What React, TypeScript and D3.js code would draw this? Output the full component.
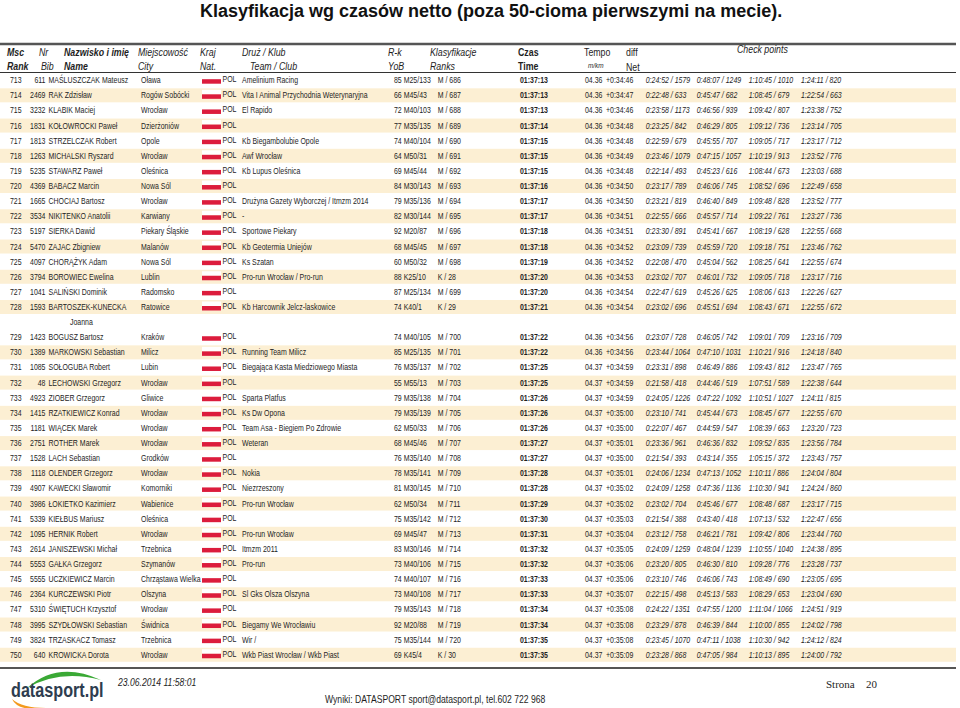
import React from "react";
import * as d3 from "d3";

const ranks = [713,714,715,716,717,718,719,720,721,722,723,724,725,726,727,728,729,730,731,732,733,734,735,736,737,738,739,740,741,742,743,744,745,746,747,748,749,750];
const bibs = [611,2469,3232,1831,1813,1263,5235,4369,1665,3534,5197,5470,4097,3794,1041,1593,1423,1389,1085,48,4923,1415,1181,2751,1528,1118,4907,3986,5339,1095,2614,5553,5555,2364,5310,3995,3824,640];
const names = ["MAŚLUSZCZAK Mateusz","RAK Zdzisław","KLABIK Maciej","KOŁOWROCKI Paweł","STRZELCZAK Robert","MICHALSKI Ryszard","STAWARZ Paweł","BABACZ Marcin","CHOCIAJ Bartosz","NIKITENKO Anatolii","SIERKA Dawid","ZAJAC Zbigniew","CHORĄŻYK Adam","BOROWIEC Ewelina","SALIŃSKI Dominik","BARTOSZEK-KUNECKA\nJoanna","BOGUSZ Bartosz","MARKOWSKI Sebastian","SOŁOGUBA Robert","LECHOWSKI Grzegorz","ZIOBER Grzegorz","RZATKIEWICZ Konrad","WIĄCEK Marek","ROTHER Marek","LACH Sebastian","OLENDER Grzegorz","KAWECKI Sławomir","ŁOKIETKO Kazimierz","KIEŁBUS Mariusz","HERNIK Robert","JANISZEWSKI Michał","GAŁKA Grzegorz","UCZKIEWICZ Marcin","KURCZEWSKI Piotr","ŚWIĘTUCH Krzysztof","SZYDŁOWSKI Sebastian","TRZASKACZ Tomasz","KROWICKA Dorota"];
const cities = ["Oława","Rogów Sobócki","Wrocław","Dzierżoniów","Opole","Wrocław","Oleśnica","Nowa Sól","Wrocław","Karwiany","Piekary Śląskie","Malanów","Nowa Sól","Lublin","Radomsko","Ratowice","Kraków","Milicz","Lubin","Wrocław","Gliwice","Wrocław","Wrocław","Wrocław","Grodków","Wrocław","Komorniki","Wabienice","Oleśnica","Wrocław","Trzebnica","Szymanów","Chrząstawa Wielka","Olszyna","Wrocław","Świdnica","Trzebnica","Wrocław"];
const nats = ranks.map(() => "POL");
const teams = ["Amelinium Racing","Vita I Animal Przychodnia Weterynaryjna","El Rapido","","Kb Biegambolubie Opole","Awf Wrocław","Kb Lupus Oleśnica","","Drużyna Gazety Wyborczej / Itmzm 2014","-","Sportowe Piekary","Kb Geotermia Uniejów","Ks Szatan","Pro-run Wrocław / Pro-run","","Kb Harcownik Jelcz-laskowice","","Running Team Milicz","Biegająca Kasta Miedziowego Miasta","","Sparta Platfus","Ks Dw Opona","Team Asa - Biegiem Po Zdrowie","Weteran","","Nokia","Niezrzeszony","Pro-run Wrocław","","Pro-run Wrocław","Itmzm 2011","Pro-run","","Sl Gks Olsza Olszyna","","Biegamy We Wrocławiu","Wir /","Wkb Piast Wrocław / Wkb Piast"];
const yobs = ["85","66","72","77","74","64","69","84","79","82","92","68","60","88","87","74","74","85","76","55","79","79","62","68","76","78","81","62","75","69","83","73","74","73","79","92","75","69"];
const cats = ["M25/133","M45/43","M40/103","M35/135","M40/104","M50/31","M45/44","M30/143","M35/136","M30/144","M20/87","M45/45","M50/32","K25/10","M25/134","K40/1","M40/105","M25/135","M35/137","M55/13","M35/138","M35/139","M50/33","M45/46","M35/140","M35/141","M30/145","M50/34","M35/142","M45/47","M30/146","M40/106","M40/107","M40/108","M35/143","M20/88","M35/144","K45/4"];
const sexRanks = ["M / 686","M / 687","M / 688","M / 689","M / 690","M / 691","M / 692","M / 693","M / 694","M / 695","M / 696","M / 697","M / 698","K / 28","M / 699","K / 29","M / 700","M / 701","M / 702","M / 703","M / 704","M / 705","M / 706","M / 707","M / 708","M / 709","M / 710","M / 711","M / 712","M / 713","M / 714","M / 715","M / 716","M / 717","M / 718","M / 719","M / 720","K / 30"];
const times = ["01:37:13","01:37:13","01:37:13","01:37:14","01:37:15","01:37:15","01:37:15","01:37:16","01:37:17","01:37:17","01:37:18","01:37:18","01:37:19","01:37:20","01:37:20","01:37:21","01:37:22","01:37:22","01:37:25","01:37:25","01:37:26","01:37:26","01:37:26","01:37:27","01:37:27","01:37:28","01:37:28","01:37:29","01:37:30","01:37:31","01:37:32","01:37:32","01:37:33","01:37:33","01:37:34","01:37:34","01:37:35","01:37:35"];
const tempos = ["04.36","04.36","04.36","04.36","04.36","04.36","04.36","04.36","04.36","04.36","04.36","04.36","04.36","04.36","04.36","04.36","04.36","04.36","04.37","04.37","04.37","04.37","04.37","04.37","04.37","04.37","04.37","04.37","04.37","04.37","04.37","04.37","04.37","04.37","04.37","04.37","04.37","04.37"];
const diffs = ["+0:34:46","+0:34:47","+0:34:46","+0:34:48","+0:34:48","+0:34:49","+0:34:48","+0:34:50","+0:34:50","+0:34:51","+0:34:51","+0:34:52","+0:34:52","+0:34:53","+0:34:54","+0:34:54","+0:34:56","+0:34:56","+0:34:59","+0:34:59","+0:34:59","+0:35:00","+0:35:00","+0:35:01","+0:35:00","+0:35:01","+0:35:02","+0:35:02","+0:35:03","+0:35:04","+0:35:05","+0:35:06","+0:35:06","+0:35:07","+0:35:08","+0:35:08","+0:35:08","+0:35:09"];
const cp1 = ["0:24:52 / 1579","0:22:48 / 633","0:23:58 / 1173","0:23:25 / 842","0:22:59 / 679","0:23:46 / 1079","0:22:14 / 493","0:23:17 / 789","0:23:21 / 819","0:22:55 / 666","0:23:30 / 891","0:23:09 / 739","0:22:08 / 470","0:23:02 / 707","0:22:47 / 619","0:23:02 / 696","0:23:07 / 728","0:23:44 / 1064","0:23:31 / 898","0:21:58 / 418","0:24:05 / 1226","0:23:10 / 741","0:22:07 / 467","0:23:36 / 961","0:21:54 / 393","0:24:06 / 1234","0:24:09 / 1258","0:23:02 / 704","0:21:54 / 388","0:23:12 / 758","0:24:09 / 1259","0:23:20 / 805","0:23:10 / 746","0:22:15 / 498","0:24:22 / 1351","0:23:29 / 878","0:23:45 / 1070","0:23:28 / 868"];
const cp2 = ["0:48:07 / 1249","0:45:47 / 682","0:46:56 / 939","0:46:29 / 805","0:45:55 / 707","0:47:15 / 1057","0:45:23 / 616","0:46:06 / 745","0:46:40 / 849","0:45:57 / 714","0:45:41 / 667","0:45:59 / 720","0:45:04 / 562","0:46:01 / 732","0:45:26 / 625","0:45:51 / 694","0:46:05 / 742","0:47:10 / 1031","0:46:49 / 886","0:44:46 / 519","0:47:22 / 1092","0:45:44 / 673","0:44:59 / 547","0:46:36 / 832","0:43:14 / 355","0:47:13 / 1052","0:47:36 / 1136","0:45:46 / 677","0:43:40 / 418","0:46:21 / 781","0:48:04 / 1239","0:46:30 / 810","0:46:06 / 743","0:45:13 / 583","0:47:55 / 1200","0:46:39 / 844","0:47:11 / 1038","0:47:05 / 984"];
const cp3 = ["1:10:45 / 1010","1:08:45 / 679","1:09:42 / 807","1:09:12 / 736","1:09:05 / 717","1:10:19 / 913","1:08:44 / 673","1:08:52 / 696","1:09:48 / 828","1:09:22 / 761","1:08:19 / 628","1:09:18 / 751","1:08:25 / 641","1:09:05 / 718","1:08:06 / 613","1:08:43 / 671","1:09:01 / 709","1:10:21 / 916","1:09:43 / 812","1:07:51 / 589","1:10:51 / 1027","1:08:45 / 677","1:08:39 / 663","1:09:52 / 835","1:05:15 / 372","1:10:11 / 886","1:10:30 / 941","1:08:48 / 687","1:07:13 / 532","1:09:42 / 806","1:10:55 / 1040","1:09:28 / 776","1:08:49 / 690","1:08:29 / 653","1:11:04 / 1066","1:10:00 / 855","1:10:30 / 942","1:10:13 / 895"];
const cp4 = ["1:24:11 / 820","1:22:54 / 663","1:23:38 / 752","1:23:14 / 705","1:23:17 / 712","1:23:52 / 776","1:23:03 / 688","1:22:49 / 658","1:23:52 / 777","1:23:27 / 736","1:22:55 / 668","1:23:46 / 762","1:22:55 / 674","1:23:17 / 716","1:22:26 / 627","1:22:55 / 672","1:23:16 / 709","1:24:18 / 840","1:23:47 / 765","1:22:38 / 644","1:24:11 / 815","1:22:55 / 670","1:23:20 / 723","1:23:56 / 784","1:23:43 / 757","1:24:04 / 804","1:24:24 / 860","1:23:17 / 715","1:22:47 / 656","1:23:44 / 760","1:24:38 / 895","1:23:28 / 737","1:23:05 / 695","1:23:04 / 690","1:24:51 / 919","1:24:02 / 798","1:24:12 / 824","1:24:00 / 792"];

const headerTop = ["Msc","Nr","Nazwisko i imię","Miejscowość","Kraj","Druż / Klub","R-k","Klasyfikacje","Czas","Tempo","diff"];
const headerBottom = ["Rank","Bib","Name","City","Nat.","Team / Club","YoB","Ranks","Time","m/km","Net"];
const title = "Klasyfikacja wg czasów netto (poza 50-cioma pierwszymi na mecie).";

const FONT = "'Liberation Sans', Arial, sans-serif";
const SX = 0.82;
const INK = "#1e1e1e";

type TP = {x:number;y:number;children:any;size?:number;sx?:number;weight?:any;italic?:boolean;anchor?:string;fill?:string;family?:string};
const T = ({x,y,children,size=8.5,sx=SX,weight,italic,anchor,fill=INK,family=FONT}:TP) => (
  <text transform={`translate(${x},${y}) scale(${sx},1)`} fontSize={size} fontWeight={weight} fontStyle={italic?"italic":undefined} textAnchor={anchor as any} fill={fill} fontFamily={family}>{children}</text>
);

export default function App() {
  const W = 960, H = 708;
  const lineIdx: number[] = [];
  let acc = 0;
  names.forEach((n) => { lineIdx.push(acc); acc += n.split("\n").length; });
  const y = d3.scaleLinear().domain([0, 39]).range([80.2, 80.2 + 39 * 15.12]);

  const hx = [7, 39, 64, 138, 200, 242, 388, 430, 518, 584, 626];
  const hxb = [7, 41, 64, 138, 200, 250, 388, 430, 518, 588, 626];
  const hStyle = [
    {w:"bold",i:true},{w:"normal",i:true},{w:"bold",i:true},{w:"normal",i:true},{w:"normal",i:true},{w:"normal",i:true},
    {w:"normal",i:true},{w:"normal",i:true},{w:"bold",i:false},{w:"normal",i:false},{w:"normal",i:false}
  ];

  return (
    <svg width={W} height={H} style={{position:"absolute",left:0,top:0,background:"#fff"}}>
      <rect x={0} y={0} width={W} height={H} fill="#fff" />
      <text x={200} y={17} fontFamily={FONT} fontWeight="bold" fontSize={18} fill="#111">{title}</text>

      <line x1={0} x2={956} y1={44} y2={44} stroke="#555" strokeWidth={2.4} />
      {headerTop.map((h, i) => (
        <T key={"ht"+i} x={hx[i]} y={56} size={11} sx={0.8} weight={hStyle[i].w} italic={hStyle[i].i}>{h}</T>
      ))}
      {headerBottom.map((h, i) => {
        const small = h === "m/km";
        const yy = h === "Net" ? 71 : small ? 68 : 70;
        return <T key={"hb"+i} x={hxb[i]} y={yy} size={small ? 8 : 11} sx={0.8} weight={hStyle[i].w} italic={small ? true : hStyle[i].i}>{h}</T>;
      })}
      <T x={737} y={53} size={11} sx={0.8} italic>Check points</T>
      <line x1={0} x2={956} y1={72.5} y2={72.5} stroke="#333" strokeWidth={1} />

      {ranks.map((r, i) => {
        const yc = y(lineIdx[i]);
        const bl = yc + 3;
        const band = r % 2 === 0;
        const nameLines = names[i].split("\n");
        return (
          <g key={r}>
            {band && <rect x={0} y={yc - 7} width={956} height={14} fill="#fcefd3" />}
            <T x={10} y={bl}>{String(r)}</T>
            <T x={45.5} y={bl} anchor="end">{String(bibs[i])}</T>
            <T x={48.5} y={bl}>{nameLines[0]}</T>
            {nameLines.slice(1).map((l, k) => (
              <T key={k} x={70} y={y(lineIdx[i] + k + 1) + 3}>{l}</T>
            ))}
            <T x={141} y={bl}>{cities[i]}</T>
            <rect x={202} y={yc - 5.5} width={19} height={4.5} fill="#fff" />
            <rect x={202} y={yc - 1} width={19} height={4.5} fill="#dc1c3c" />
            <T x={222.5} y={bl - 1}>{nats[i]}</T>
            <T x={242} y={bl}>{teams[i]}</T>
            <T x={394} y={bl}>{yobs[i] + " " + cats[i]}</T>
            <T x={437.7} y={bl}>{sexRanks[i]}</T>
            <T x={520} y={bl} weight="bold">{times[i]}</T>
            <T x={585} y={bl}>{tempos[i]}</T>
            <T x={606} y={bl}>{diffs[i]}</T>
            <T x={645.7} y={bl} italic>{cp1[i]}</T>
            <T x={696.7} y={bl} italic>{cp2[i]}</T>
            <T x={748.7} y={bl} italic>{cp3[i]}</T>
            <T x={801} y={bl} italic>{cp4[i]}</T>
          </g>
        );
      })}

      <line x1={0} x2={956} y1={668} y2={668} stroke="#555" strokeWidth={2} />
      <path d="M 27 688 Q 58 660 101 680 Q 60 669 27 688 Z" fill="#3aa935" />
      <path d="M 12 699 Q 18 712 46 708 Q 22 708 12 699 Z" fill="#f39a1e" />
      <T x={11} y={697} size={19.5} sx={0.83} weight="bold" fill="#2e3d4f">datasport.pl</T>
      <T x={118} y={686} size={10.5} italic>23.06.2014 11:58:01</T>
      <T x={325} y={703} size={10.5}>Wyniki: DATASPORT sport@datasport.pl, tel.602 722 968</T>
      <T x={826} y={688} size={11} sx={1} family="'Liberation Serif', 'Times New Roman', serif">Strona</T>
      <T x={866} y={688} size={11} sx={1} family="'Liberation Serif', 'Times New Roman', serif">20</T>
    </svg>
  );
}
